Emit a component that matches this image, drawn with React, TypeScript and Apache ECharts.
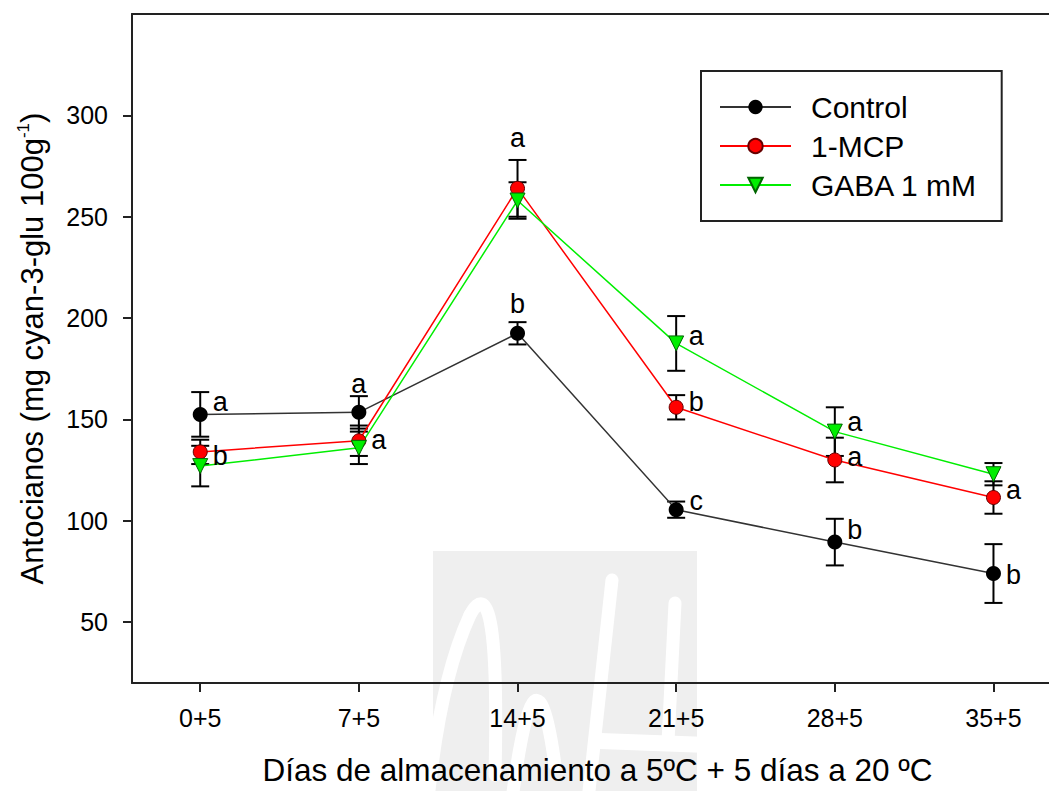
import React, { useEffect, useRef } from "react";
import * as echarts from "echarts";

const categories = ["0+5", "7+5", "14+5", "21+5", "28+5", "35+5"];
const yTicks = [50, 100, 150, 200, 250, 300];
const xTicks = [0, 1, 2, 3, 4, 5];

const controlMean = [152.5, 153.5, 192.5, 105.5, 89.5, 74];
const controlErr = [11, 8, 5.5, 4, 11.5, 14.5];
const mcpMean = [134, 139.5, 264, 156, 130, 111.5];
const mcpErr = [6, 7.5, 14, 6, 11, 8];
const gabaMean = [127, 136, 258, 187.5, 144, 123];
const gabaErr = [10, 8, 9, 13.5, 12, 5.5];

const letterIdx = [0, 0, 1, 1, 2, 2, 3, 3, 3, 4, 4, 4, 5, 5];
const letterVal = [158.5, 132, 167.6, 139.7, 289, 207, 191.4, 158.5, 110, 148.7, 131.4, 95.3, 115, 73.2];
const letterText = ["a", "b", "a", "a", "a", "b", "a", "b", "c", "a", "a", "b", "a", "b"];
const letterSide = ["r", "r", "t", "r", "t", "t", "r", "r", "r", "r", "r", "r", "r", "r"];

const FONT = "'Liberation Sans', Arial, sans-serif";

export default function App() {
  const ref = useRef<HTMLDivElement>(null);
  useEffect(() => {
    document.body.style.margin = "0";
    const chart = echarts.init(ref.current!, null, { renderer: "svg" });
    const errData: number[][] = [];
    [
      [controlMean, controlErr],
      [mcpMean, mcpErr],
      [gabaMean, gabaErr],
    ].forEach(([m, e]) => m.forEach((v, i) => errData.push([i, v, e[i]])));
    const letterData = letterIdx.map((x, i) => [x, letterVal[i], letterText[i], letterSide[i]]);

    const axisLineStyle = { color: "#222", width: 2 };
    const wm = { stroke: "#fff", lineWidth: 13, lineCap: "round", fill: null };
    chart.setOption({
      animation: false,
      textStyle: { fontFamily: FONT },
      grid: { left: 132, right: 0, top: 14, bottom: 107, show: false },
      legend: {
        data: ["Control", "1-MCP", "GABA 1 mM"],
        orient: "vertical",
        left: 701,
        top: 71,
        padding: [21, 24, 21, 18],
        itemWidth: 71,
        itemHeight: 18,
        itemGap: 9,
        borderColor: "#222",
        borderWidth: 2,
        textStyle: { fontSize: 30, color: "#000", fontFamily: FONT, padding: [0, 0, 0, 15], lineHeight: 30 },
      },
      graphic: [
        { type: "rect", z: -10, silent: true, shape: { x: 433, y: 551, width: 264, height: 240 }, style: { fill: "#efefef" } },
        { type: "bezierCurve", z: -9, silent: true, shape: { x1: 428, y1: 800, x2: 470, y2: 615, cpx1: 440, cpy1: 680 }, style: wm },
        { type: "bezierCurve", z: -9, silent: true, shape: { x1: 470, y1: 615, x2: 495, y2: 775, cpx1: 500, cpy1: 560 }, style: wm },
        { type: "bezierCurve", z: -9, silent: true, shape: { x1: 512, y1: 800, x2: 555, y2: 765, cpx1: 535, cpy1: 620 }, style: wm },
        { type: "line", z: -9, silent: true, shape: { x1: 612, y1: 580, x2: 588, y2: 800 }, style: wm },
        { type: "line", z: -9, silent: true, shape: { x1: 675, y1: 603, x2: 668, y2: 742 }, style: wm },
        { type: "line", z: -9, silent: true, shape: { x1: 600, y1: 741, x2: 708, y2: 745 }, style: { ...wm, lineWidth: 16 } },
      ],
      xAxis: [
        {
          type: "value",
          min: -0.43,
          max: 5.35,
          position: "bottom",
          splitLine: { show: false },
          axisLine: { show: true, onZero: false, lineStyle: axisLineStyle },
          axisTick: { show: true, length: 9, lineStyle: axisLineStyle, customValues: xTicks },
          axisLabel: {
            customValues: xTicks,
            formatter: (v: number) => categories[Math.round(v)] ?? "",
            fontSize: 25,
            color: "#000",
            margin: 22,
            fontFamily: FONT,
          },
          name: "Días de almacenamiento a 5ºC + 5 días a 20 ºC",
          nameLocation: "middle",
          nameGap: 71,
          nameTextStyle: { fontSize: 31.5, color: "#000", fontFamily: FONT, padding: [0, 0, 0, 14] },
        },
        {
          type: "value",
          min: -0.43,
          max: 5.35,
          position: "top",
          splitLine: { show: false },
          axisLine: { show: true, onZero: false, lineStyle: axisLineStyle },
          axisTick: { show: false },
          axisLabel: { show: false },
        },
      ],
      yAxis: {
        type: "value",
        min: 20,
        max: 350,
        position: "left",
        splitLine: { show: false },
        axisLine: { show: true, onZero: false, lineStyle: axisLineStyle },
        axisTick: { show: true, length: 9, lineStyle: axisLineStyle, customValues: yTicks },
        axisLabel: { customValues: yTicks, fontSize: 25, color: "#000", margin: 24, fontFamily: FONT },
        name: "{n|Antocianos (mg cyan-3-glu 100g}{s|-1}{n|)}",
        nameLocation: "middle",
        nameGap: 83,
        nameTextStyle: {
          fontFamily: FONT,
          rich: {
            n: { fontSize: 31, color: "#000", fontFamily: FONT, lineHeight: 34 },
            s: { fontSize: 17, color: "#000", fontFamily: FONT, verticalAlign: "top", lineHeight: 34, padding: [0, 0, 12, 0] },
          },
        },
      },
      series: [
        {
          type: "custom",
          z: 1,
          silent: true,
          data: errData,
          renderItem: (params: any, api: any) => {
            const x = api.value(0);
            const m = api.value(1);
            const e = api.value(2);
            const top = api.coord([x, m + e]);
            const bot = api.coord([x, m - e]);
            const hw = 9;
            const st = { stroke: "#000", lineWidth: 2 };
            return {
              type: "group",
              children: [
                { type: "line", shape: { x1: top[0], y1: top[1], x2: bot[0], y2: bot[1] }, style: st },
                { type: "line", shape: { x1: top[0] - hw, y1: top[1], x2: top[0] + hw, y2: top[1] }, style: st },
                { type: "line", shape: { x1: bot[0] - hw, y1: bot[1], x2: bot[0] + hw, y2: bot[1] }, style: st },
              ],
            };
          },
        },
        {
          name: "Control",
          type: "line",
          z: 3,
          data: controlMean.map((v, i) => [i, v]),
          symbol: "circle",
          symbolSize: 15,
          lineStyle: { color: "#333", width: 1.5 },
          itemStyle: { color: "#000" },
        },
        {
          name: "1-MCP",
          type: "line",
          z: 3,
          data: mcpMean.map((v, i) => [i, v]),
          symbol: "circle",
          symbolSize: 14,
          lineStyle: { color: "#ff0000", width: 1.5 },
          itemStyle: { color: "#ff0000", borderColor: "#600", borderWidth: 1 },
        },
        {
          name: "GABA 1 mM",
          type: "line",
          z: 3,
          data: gabaMean.map((v, i) => [i, v]),
          symbol: "triangle",
          symbolRotate: 180,
          symbolSize: 15,
          lineStyle: { color: "#00ee00", width: 1.5 },
          itemStyle: { color: "#00ee00", borderColor: "#060", borderWidth: 1 },
        },
        {
          type: "custom",
          z: 4,
          silent: true,
          data: letterData,
          renderItem: (params: any, api: any) => {
            const idx = params.dataIndex;
            const d = letterData[idx];
            const c = api.coord([d[0], d[1]]);
            const side = d[3];
            return {
              type: "text",
              x: c[0] + (side === "r" ? 20 : 0),
              y: c[1],
              style: {
                text: d[2] as string,
                fontSize: 27,
                fontFamily: FONT,
                fill: "#000",
                align: "center",
                verticalAlign: "middle",
              },
            };
          },
        },
      ],
    });
    return () => chart.dispose();
  }, []);
  return <div ref={ref} style={{ width: 1049, height: 791 }} />;
}
